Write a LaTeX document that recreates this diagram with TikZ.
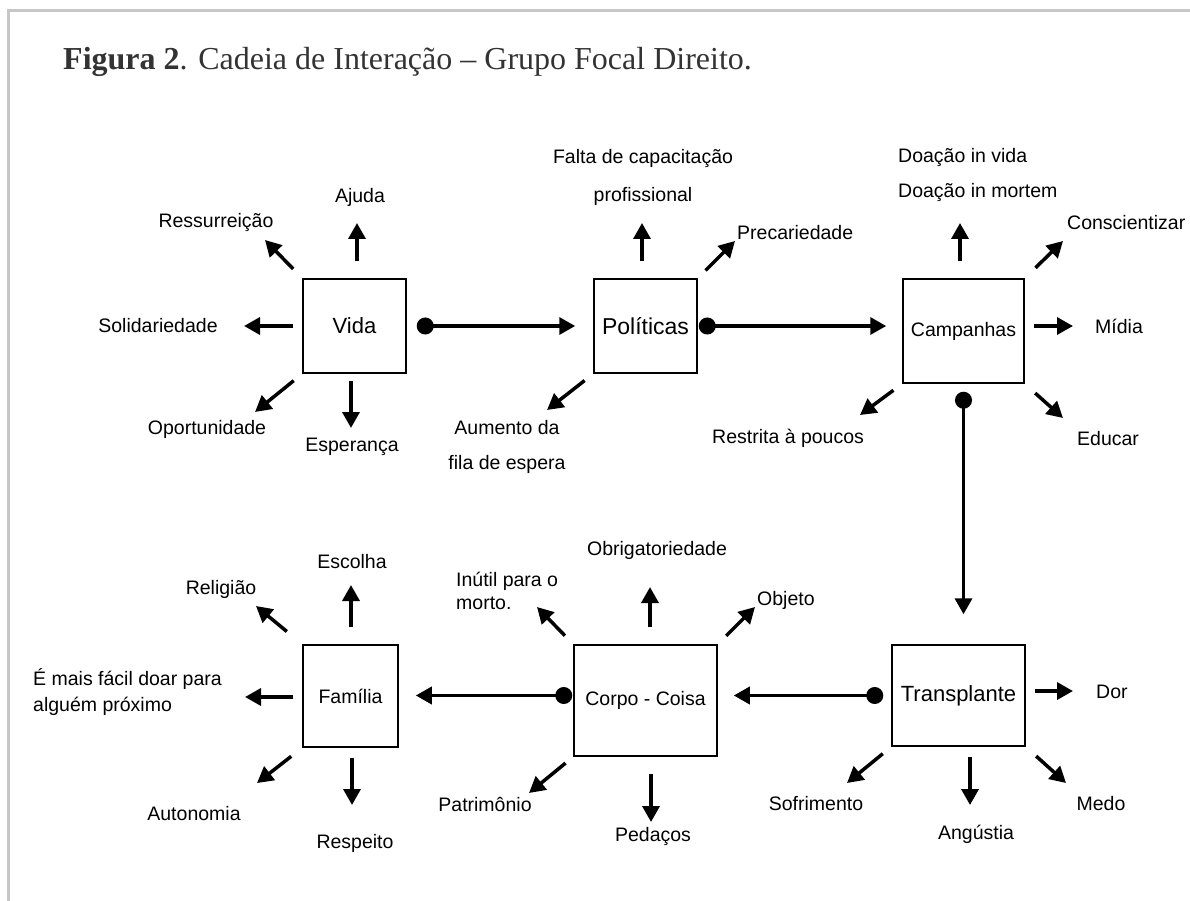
\documentclass[tikz,border=0pt]{standalone}
\usepackage{fontspec}
\setmainfont{Liberation Sans}
\newfontfamily\titlefont{Liberation Serif}
\usetikzlibrary{arrows.meta}

\begin{document}
\begin{tikzpicture}[
      x=1pt, y=-1pt,
      box/.style={draw, line width=1.5pt, inner sep=0pt},
      lbl/.style={font=\fontsize{19.5}{23}\selectfont, inner sep=0pt},
      outarrow/.style={line width=3.5pt, -{Triangle[length=16pt,width=17pt]}},
      link/.style={line width=3.5pt, {Circle[length=17pt]}-{Triangle[length=16pt,width=17pt]}}
    ]
      \useasboundingbox (0,0) rectangle (1190,901);
      \draw[line width=3pt, black!22] (8,901) -- (8,11) -- (1190,11);
      \node[anchor=west, inner sep=0pt, text=black!80, font=\titlefont\fontsize{32}{36}\selectfont] (title) at (63,62) {\textbf{Figura 2}. Cadeia de Interação – Grupo Focal Direito.};

      % boxes
      \node[box, minimum width=103pt, minimum height=94pt, font=\fontsize{22}{26}\selectfont] (vida) at (354.5,326) {Vida};
      \node[box, minimum width=103pt, minimum height=94pt, font=\fontsize{23}{27}\selectfont] (pol) at (645.5,326) {Políticas};
      \node[box, minimum width=121pt, minimum height=104pt, font=\fontsize{19.5}{23}\selectfont] (camp) at (963.5,331) {Campanhas};
      \node[box, minimum width=95pt, minimum height=102pt, font=\fontsize{19.5}{23}\selectfont] (fam) at (350.5,696) {Família};
      \node[box, minimum width=143pt, minimum height=111pt, font=\fontsize{19.5}{23}\selectfont] (corpo) at (645.5,700.5) {Corpo - Coisa};
      \node[box, minimum width=133pt, minimum height=101pt, font=\fontsize{22}{26}\selectfont] (trans) at (958.5,695.5) {Transplante};

      % chain
      \draw[link, shorten <=10pt, shorten >=18pt] (vida) -- (pol);
      \draw[link, shorten <=1pt, shorten >=16pt] (pol.east) -- (pol.east -| camp.west);
      \draw[link, shorten <=8pt, shorten >=30pt] (camp.south) -- (camp.south |- trans.north);
      \draw[link, shorten <=8pt, shorten >=16pt] (trans.west) -- (trans.west -| corpo.east);
      \draw[link, shorten <=1pt, shorten >=17pt] (corpo.west |- trans.west) -- (fam.east |- trans.west);

      % Vida
      \coordinate (v1) at (265,240);
      \coordinate (v2) at (357,223);
      \coordinate (v3) at (244,326);
      \coordinate (v4) at (255,412);
      \coordinate (v5) at (351,428);
      \draw[outarrow, shorten <=13pt] (vida.north west) -- (v1);
      \draw[outarrow, shorten <=17pt] (v2 |- vida.north) -- (v2);
      \draw[outarrow, shorten <=9pt] (vida.west) -- (v3);
      \draw[outarrow, shorten <=11pt] (vida.south west) -- (v4);
      \draw[outarrow, shorten <=7pt] (v5 |- vida.south) -- (v5);
      \node[lbl] (ressur) at (216,223) {Ressurreição};
      \node[lbl] (ajuda) at (360,197) {Ajuda};
      \node[lbl] (solid) at (158,326) {Solidariedade};
      \node[lbl] (oport) at (207,429) {Oportunidade};
      \node[lbl] (esper) at (352,447) {Esperança};

      % Politicas
      \coordinate (p1) at (642,223);
      \coordinate (p2) at (735,241);
      \coordinate (p3) at (547,410);
      \draw[outarrow, shorten <=17pt] (p1 |- pol.north) -- (p1);
      \draw[outarrow, shorten <=11pt] (pol.north east) -- (p2);
      \draw[outarrow, shorten <=11pt] (pol.south west) -- (p3);
      \node[lbl, align=center, font=\fontsize{19.5}{38}\selectfont] (falta) at (643,177) {Falta de capacitação\\profissional};
      \node[lbl, anchor=west] (preca) at (737,233) {Precariedade};
      \node[lbl, align=center, font=\fontsize{19.5}{35}\selectfont] (aumen) at (507,447) {Aumento da\\fila de espera};

      % Campanhas
      \coordinate (c1) at (960,223);
      \coordinate (c2) at (1063,241);
      \coordinate (c3) at (1073,326);
      \coordinate (c4) at (1063,418);
      \coordinate (c5) at (860,415);
      \draw[outarrow, shorten <=17pt] (c1 |- camp.north) -- (c1);
      \draw[outarrow, shorten <=15pt] (camp.north east) -- (c2);
      \draw[outarrow, shorten <=9pt] (camp.east |- c3) -- (c3);
      \draw[outarrow, shorten <=14pt] (camp.south east) -- (c4);
      \draw[outarrow, shorten <=11pt] (camp.south west) -- (c5);
      \node[lbl, anchor=west, align=left, font=\fontsize{19.5}{35}\selectfont] (doacao) at (898,175) {Doação in vida\\Doação in mortem};
      \node[lbl, anchor=west] (consc) at (1067,223) {Conscientizar};
      \node[lbl, anchor=west] (midia) at (1095,326) {Mídia};
      \node[lbl, anchor=west] (educ) at (1077,439) {Educar};
      \node[lbl, anchor=west] (restr) at (712,438) {Restrita à poucos};

      % Familia
      \coordinate (f1) at (256,606);
      \coordinate (f2) at (351,585);
      \coordinate (f3) at (245,697);
      \coordinate (f4) at (257,783);
      \coordinate (f5) at (352,805);
      \draw[outarrow, shorten <=20pt] (fam.north west) -- (f1);
      \draw[outarrow, shorten <=17pt] (f2 |- fam.north) -- (f2);
      \draw[outarrow, shorten <=9pt] (fam.west |- f3) -- (f3);
      \draw[outarrow, shorten <=14pt] (fam.south west) -- (f4);
      \draw[outarrow, shorten <=10pt] (f5 |- fam.south) -- (f5);
      \node[lbl] (relig) at (221,589) {Religião};
      \node[lbl] (escol) at (352,562) {Escolha};
      \node[lbl, anchor=west, align=left, font=\fontsize{19.5}{26}\selectfont] (facil) at (33,692) {É mais fácil doar para\\alguém próximo};
      \node[lbl] (auton) at (194,814) {Autonomia};
      \node[lbl] (respe) at (355,843) {Respeito};

      % Corpo - Coisa
      \coordinate (k1) at (537,607);
      \coordinate (k2) at (650,587);
      \coordinate (k3) at (755,607);
      \coordinate (k4) at (529,793);
      \coordinate (k5) at (651,822);
      \draw[outarrow, shorten <=12pt] (corpo.north west) -- (k1);
      \draw[outarrow, shorten <=17pt] (k2 |- corpo.north) -- (k2);
      \draw[outarrow, shorten <=12pt] (corpo.north east) -- (k3);
      \draw[outarrow, shorten <=10pt] (corpo.south west) -- (k4);
      \draw[outarrow, shorten <=17pt] (k5 |- corpo.south) -- (k5);
      \node[lbl, anchor=west, align=left] (inutil) at (456,591) {Inútil para o\\morto.};
      \node[lbl] (obrig) at (657,550) {Obrigatoriedade};
      \node[lbl, anchor=west] (objeto) at (757,600) {Objeto};
      \node[lbl] (patri) at (485,804) {Patrimônio};
      \node[lbl] (pedac) at (653,836) {Pedaços};

      % Transplante
      \coordinate (t1) at (1073,691);
      \coordinate (t2) at (847,783);
      \coordinate (t3) at (970,805);
      \coordinate (t4) at (1066,783);
      \draw[outarrow, shorten <=9pt] (trans.east |- t1) -- (t1);
      \draw[outarrow, shorten <=11pt] (trans.south west) -- (t2);
      \draw[outarrow, shorten <=10pt] (t3 |- trans.south) -- (t3);
      \draw[outarrow, shorten <=14pt] (trans.south east) -- (t4);
      \node[lbl, anchor=west] (dor) at (1096,692) {Dor};
      \node[lbl] (sofri) at (816,804) {Sofrimento};
      \node[lbl] (angus) at (976,834) {Angústia};
      \node[lbl] (medo) at (1101,804) {Medo};
    \end{tikzpicture}
\end{document}
